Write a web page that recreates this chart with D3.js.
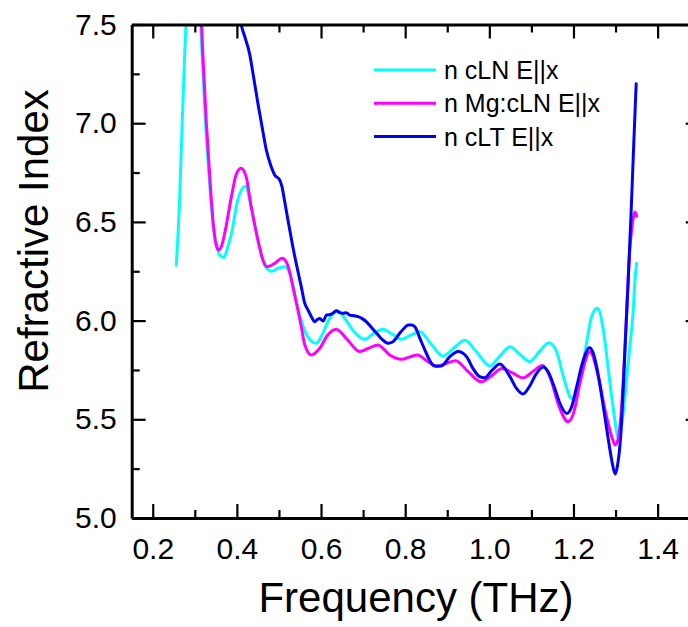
<!DOCTYPE html>
<html>
<head>
<meta charset="utf-8">
<script src="https://cdn.jsdelivr.net/npm/d3@7"></script>
<style>
  html, body { margin: 0; padding: 0; background: #fff; }
  svg { display: block; font-family: "Liberation Sans", Arial, Helvetica, sans-serif; }
</style>
</head>
<body>
<svg id="chart" width="688" height="627"></svg>
<script>
// Refractive index spectra (E||x) of congruent LN, Mg-doped LN and congruent LT
// Each entry: [frequency in THz, refractive index]

const seriesNames = ["n cLN E||x", "n Mg:cLN E||x", "n cLT E||x"];
const seriesColors = ["#00ffff", "#ff00ff", "#0000ff"];

const cLN = [
  [0.256, 6.28], [0.264, 6.62], [0.270, 7.00], [0.276, 7.35], [0.281, 7.60],
  [0.290, 7.85], [0.300, 7.90], [0.308, 7.80], [0.317, 7.36], [0.325, 7.02],
  [0.335, 6.70], [0.343, 6.50], [0.352, 6.38], [0.360, 6.33], [0.369, 6.32],
  [0.378, 6.37], [0.387, 6.44], [0.402, 6.61], [0.420, 6.68], [0.434, 6.58],
  [0.450, 6.41], [0.466, 6.28], [0.482, 6.25], [0.497, 6.265], [0.513, 6.273],
  [0.529, 6.22], [0.541, 6.10], [0.549, 6.03], [0.561, 5.95], [0.575, 5.90],
  [0.589, 5.885], [0.603, 5.93], [0.620, 6.01], [0.640, 6.05], [0.660, 6.00],
  [0.680, 5.94], [0.704, 5.905], [0.725, 5.935], [0.747, 5.956], [0.770, 5.93],
  [0.791, 5.905], [0.812, 5.925], [0.835, 5.944], [0.862, 5.88], [0.890, 5.82],
  [0.915, 5.86], [0.942, 5.90], [0.970, 5.84], [1.001, 5.77], [1.025, 5.82],
  [1.049, 5.868], [1.072, 5.83], [1.096, 5.792], [1.118, 5.84], [1.142, 5.888],
  [1.160, 5.842], [1.176, 5.716], [1.196, 5.606], [1.215, 5.70], [1.231, 5.885],
  [1.243, 6.02], [1.257, 6.062], [1.271, 5.952], [1.283, 5.75], [1.294, 5.564],
  [1.308, 5.40], [1.318, 5.53], [1.326, 5.70], [1.334, 5.87], [1.342, 6.05],
  [1.346, 6.20], [1.350, 6.29]
];

const MgcLN = [
  [0.312, 7.70], [0.319, 7.354], [0.327, 7.016], [0.337, 6.68], [0.3445, 6.476],
  [0.350, 6.39], [0.357, 6.358], [0.364, 6.38], [0.371, 6.442], [0.387, 6.628],
  [0.398, 6.738], [0.410, 6.772], [0.422, 6.729], [0.434, 6.577], [0.450, 6.408],
  [0.462, 6.307], [0.471, 6.273], [0.490, 6.29], [0.508, 6.316], [0.521, 6.28],
  [0.533, 6.172], [0.545, 6.054], [0.553, 5.97], [0.561, 5.88], [0.577, 5.826],
  [0.597, 5.86], [0.616, 5.927], [0.636, 5.956], [0.660, 5.91], [0.692, 5.843],
  [0.713, 5.86], [0.735, 5.876], [0.763, 5.826], [0.792, 5.804], [0.810, 5.815],
  [0.829, 5.826], [0.852, 5.795], [0.876, 5.768], [0.900, 5.785], [0.920, 5.797],
  [0.950, 5.74], [0.981, 5.69], [1.005, 5.72], [1.030, 5.757], [1.055, 5.735],
  [1.080, 5.71], [1.105, 5.745], [1.126, 5.772], [1.145, 5.71], [1.165, 5.57],
  [1.187, 5.488], [1.200, 5.53], [1.215, 5.68], [1.239, 5.842], [1.259, 5.716],
  [1.275, 5.547], [1.291, 5.412], [1.299, 5.37], [1.306, 5.40], [1.312, 5.50],
  [1.319, 5.72], [1.326, 6.03], [1.333, 6.33], [1.340, 6.49], [1.346, 6.55],
  [1.350, 6.53]
];

const cLT = [
  [0.400, 7.62], [0.410, 7.50], [0.420, 7.43], [0.430, 7.354], [0.440, 7.23],
  [0.450, 7.10], [0.460, 6.98], [0.470, 6.864], [0.480, 6.79], [0.490, 6.738],
  [0.502, 6.712], [0.507, 6.68], [0.513, 6.611], [0.523, 6.49], [0.533, 6.374],
  [0.543, 6.27], [0.553, 6.172], [0.561, 6.09], [0.569, 6.054], [0.577, 6.02],
  [0.585, 5.994], [0.591, 6.005], [0.597, 6.011], [0.605, 5.998], [0.613, 6.028],
  [0.620, 6.03], [0.628, 6.037], [0.636, 6.05], [0.644, 6.04], [0.652, 6.037],
  [0.660, 6.04], [0.668, 6.028], [0.678, 6.025], [0.688, 6.02], [0.698, 6.01],
  [0.708, 5.994], [0.720, 5.965], [0.732, 5.936], [0.745, 5.905], [0.759, 5.885],
  [0.771, 5.893], [0.787, 5.936], [0.797, 5.96], [0.807, 5.978], [0.815, 5.978],
  [0.823, 5.969], [0.835, 5.91], [0.845, 5.86], [0.854, 5.817], [0.862, 5.785],
  [0.870, 5.77], [0.886, 5.77], [0.906, 5.817], [0.926, 5.843], [0.946, 5.817],
  [0.961, 5.758], [0.977, 5.716], [0.989, 5.71], [1.005, 5.745], [1.025, 5.78],
  [1.049, 5.716], [1.065, 5.655], [1.080, 5.628], [1.095, 5.665], [1.110, 5.725],
  [1.128, 5.765], [1.140, 5.74], [1.155, 5.66], [1.168, 5.58], [1.184, 5.53],
  [1.195, 5.56], [1.207, 5.66], [1.222, 5.79], [1.238, 5.862], [1.246, 5.84],
  [1.255, 5.767], [1.271, 5.564], [1.283, 5.395], [1.292, 5.28], [1.299, 5.223],
  [1.305, 5.27], [1.311, 5.38], [1.317, 5.60], [1.323, 5.88], [1.330, 6.20],
  [1.337, 6.55], [1.343, 6.88], [1.349, 7.20]
];

const xMajorTicks = [0.2, 0.4, 0.6, 0.8, 1.0, 1.2, 1.4];
const xMinorTicks = [0.3, 0.5, 0.7, 0.9, 1.1, 1.3];
const yMajorTicks = [5.0, 5.5, 6.0, 6.5, 7.0, 7.5];
const yMinorTicks = [5.25, 5.75, 6.25, 6.75, 7.25];

const xTitle = "Frequency (THz)";
const yTitle = "Refractive Index";

// ---- layout ----
const svg = d3.select("#chart");
const plotL = 131.7, plotR = 699.7, plotT = 24.5, plotB = 518;

const x = d3.scaleLinear().domain([0.15, 1.5]).range([plotL, plotR]);
const y = d3.scaleLinear().domain([5.0, 7.5]).range([plotB, plotT]);

const majorLen = 14, minorLen = 8;
const fmt = d3.format(".1f");

svg.append("clipPath").attr("id", "plot-clip")
  .append("rect").attr("x", plotL).attr("y", plotT)
  .attr("width", plotR - plotL).attr("height", plotB - plotT);

// ---- data lines ----
const line = d3.line()
  .x(d => x(d[0]))
  .y(d => y(d[1]))
  .curve(d3.curveMonotoneX);

const lines = svg.append("g").attr("clip-path", "url(#plot-clip)");
[cLN, MgcLN, cLT].forEach((s, i) => {
  lines.append("path")
    .datum(s)
    .attr("d", line)
    .attr("fill", "none")
    .attr("stroke", seriesColors[i])
    .attr("stroke-width", 3)
    .attr("stroke-linejoin", "round")
    .attr("stroke-linecap", "round");
});

// ---- axes (ticks point inward on all four sides) ----
function styleAxis(g) {
  g.select(".domain").attr("stroke", "#000").attr("stroke-width", 3);
  g.selectAll(".tick line").attr("stroke", "#000").attr("stroke-width", 2.2);
  g.selectAll(".tick text")
    .attr("fill", "#000")
    .style("font-size", "30px")
    .style("font-family", "'Liberation Sans', Arial, sans-serif");
}

// bottom
svg.append("g").attr("transform", `translate(0,${plotB})`)
  .call(d3.axisBottom(x).tickValues(xMinorTicks).tickSize(-minorLen).tickFormat(""))
  .call(g => g.select(".domain").remove())
  .call(styleAxis);
svg.append("g").attr("transform", `translate(0,${plotB})`)
  .call(d3.axisBottom(x).tickValues(xMajorTicks).tickSizeInner(-majorLen).tickSizeOuter(0)
    .tickPadding(20).tickFormat(fmt))
  .call(styleAxis);

// top
svg.append("g").attr("transform", `translate(0,${plotT})`)
  .call(d3.axisTop(x).tickValues(xMinorTicks).tickSize(-minorLen).tickFormat(""))
  .call(g => g.select(".domain").remove())
  .call(styleAxis);
svg.append("g").attr("transform", `translate(0,${plotT})`)
  .call(d3.axisTop(x).tickValues(xMajorTicks).tickSizeInner(-majorLen).tickSizeOuter(0).tickFormat(""))
  .call(styleAxis);

// left
svg.append("g").attr("transform", `translate(${plotL},0)`)
  .call(d3.axisLeft(y).tickValues(yMinorTicks).tickSize(-minorLen).tickFormat(""))
  .call(g => g.select(".domain").remove())
  .call(styleAxis);
svg.append("g").attr("transform", `translate(${plotL},0)`)
  .call(d3.axisLeft(y).tickValues(yMajorTicks).tickSizeInner(-majorLen).tickSizeOuter(0)
    .tickPadding(15).tickFormat(fmt))
  .call(styleAxis);

// right
svg.append("g").attr("transform", `translate(${plotR},0)`)
  .call(d3.axisRight(y).tickValues(yMinorTicks).tickSize(-minorLen).tickFormat(""))
  .call(g => g.select(".domain").remove())
  .call(styleAxis);
svg.append("g").attr("transform", `translate(${plotR},0)`)
  .call(d3.axisRight(y).tickValues(yMajorTicks).tickSizeInner(-majorLen).tickSizeOuter(0).tickFormat(""))
  .call(styleAxis);

// ---- axis titles ----
svg.append("text")
  .attr("x", 416).attr("y", 612)
  .attr("text-anchor", "middle")
  .style("font-size", "42px")
  .text(xTitle);

svg.append("text")
  .attr("transform", "translate(48,241) rotate(-90)")
  .attr("text-anchor", "middle")
  .style("font-size", "42px")
  .text(yTitle);

// ---- legend ----
const legend = svg.append("g");
seriesNames.forEach((name, i) => {
  const cy = 70 + i * 33.3;
  legend.append("line")
    .attr("x1", 374).attr("x2", 436)
    .attr("y1", cy).attr("y2", cy)
    .attr("stroke", seriesColors[i]).attr("stroke-width", 3);
  legend.append("text")
    .attr("x", 444).attr("y", cy + 9)
    .style("font-size", "25px")
    .text(name);
});
</script>
</body>
</html>
